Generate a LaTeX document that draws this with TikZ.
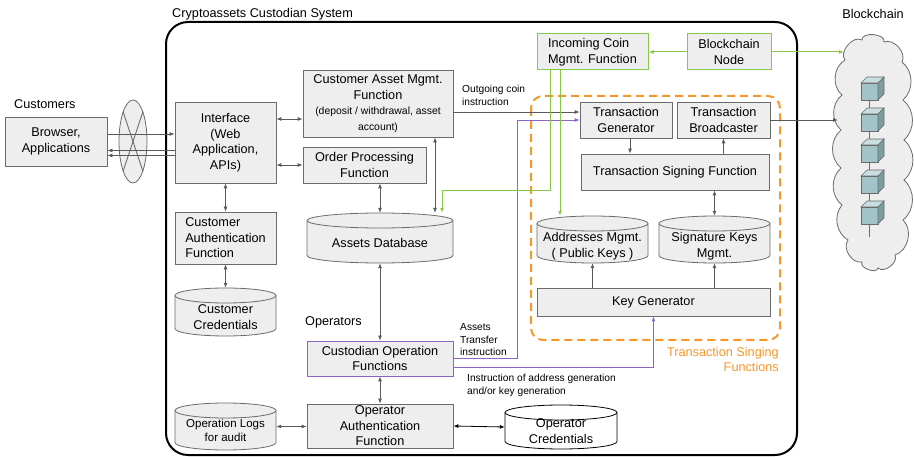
\documentclass[tikz,border=0pt]{standalone}
\usepackage{fontspec}
\setmainfont{Liberation Sans}
\usetikzlibrary{arrows.meta,shapes.geometric}

\definecolor{boxfill}{HTML}{EEEEEE}
\definecolor{boxline}{HTML}{6B6B6B}
\definecolor{wiregray}{HTML}{595959}
\definecolor{coingreen}{HTML}{86C94A}
\definecolor{oppurple}{HTML}{8E63C7}
\definecolor{signorange}{HTML}{F7962B}
\definecolor{cubefront}{HTML}{A2C4C9}
\definecolor{cubetop}{HTML}{C8DEE1}
\definecolor{cubeside}{HTML}{7E9DA1}

\newcommand{\mainf}{\fontsize{12.7}{15.5}\selectfont}
\newcommand{\smallf}{\fontsize{10.4}{12.7}\selectfont}
\newcommand{\notef}{\fontsize{10.2}{12.5}\selectfont}
% text of a store sits below its top ellipse
\newcommand{\storetext}[2][9pt]{\raisebox{-#1}[10pt][10pt]{\begin{tabular}{@{}c@{}}#2\end{tabular}}}
% a store: [options]{name}{x}{y}{width}{height}{text}
\newcommand{\store}[7][]{%
  \filldraw[storeline,#1] (#3-#5/2,#4-#6/2+7.5) -- (#3-#5/2,#4+#6/2-7.5)
    arc[start angle=180,end angle=0,x radius=#5/2,y radius=7.5]
    -- (#3+#5/2,#4-#6/2+7.5)
    arc[start angle=0,end angle=-180,x radius=#5/2,y radius=7.5] -- cycle;
  \draw[storeline,#1,fill=none] (#3-#5/2,#4-#6/2+7.5) arc[start angle=180,end angle=0,x radius=#5/2,y radius=7.5];
  \node[storebox,#1,draw=none,fill=none,minimum width=#5,minimum height=#6] (#2) at (#3,#4) {#7};}

\begin{document}
\begin{tikzpicture}[x=1pt,y=-1pt,
  >={Latex[length=5pt,width=4pt]},
  box/.style={draw=boxline,fill=boxfill,line width=0.8pt,align=center,inner sep=1pt,font=\mainf},
  storeline/.style={draw=boxline,fill=boxfill,line width=0.8pt},
  storebox/.style={inner sep=1pt,font=\mainf},
  wire/.style={draw=wiregray,line width=0.8pt},
  note/.style={align=left,inner sep=1pt,font=\notef}]
\useasboundingbox (0,0) rectangle (914,457);

% system boundary and the signing group
\draw[line width=2pt,rounded corners=22] (166,22) rectangle (797,455);
\node[anchor=west,inner sep=1pt,font=\mainf] (systitle) at (171,14) {Cryptoassets Custodian System};
\draw[signorange,line width=2pt,dash pattern=on 8pt off 5pt,rounded corners=12] (531,96) rectangle (780,340);
\node[anchor=east,align=right,inner sep=1pt,font=\mainf,text=signorange] (signtitle) at (780,359.5) {Transaction Singing\\Functions};

% customer side
\node[anchor=west,inner sep=1pt,font=\mainf] (custtitle) at (13,104) {Customers};
\node[box,minimum width=102,minimum height=49] (browser) at (56,141.5) {Browser,\\Applications};
\node[ellipse,draw=boxline,fill=boxfill,line width=0.8pt,minimum width=28,minimum height=83,inner sep=0] (net) at (133,141.5) {};
\draw[boxline,line width=0.8pt] (net.center) ++(-10,-30) -- ++(20,60);
\draw[boxline,line width=0.8pt] (net.center) ++(10,-30) -- ++(-20,60);

\node[box,minimum width=101,minimum height=81] (iface) at (225.5,142.5) {Interface\\(Web\\Application,\\APIs)};
\node[box,align=left,minimum width=101,minimum height=52] (custauth) at (225.5,238) {Customer\\Authentication\\Function};
\store{custcred}{225.5}{312}{101}{48}{\storetext[9.2pt]{Customer\\Credentials}}

% asset management
\node[box,minimum width=150,minimum height=67] (cam) at (378,103.5) {Customer Asset Mgmt.\\Function\\{\smallf(deposit / withdrawal, asset}\\{\smallf account)}};
\node[box,minimum width=123,minimum height=36] (order) at (364.5,165) {Order Processing\\Function};
\store{db}{380}{238}{146}{50}{\storetext[9.6pt]{Assets Database}}

% operators
\node[anchor=west,inner sep=1pt,font=\mainf] (optitle) at (304,322) {Operators};
\node[box,draw=oppurple,minimum width=146,minimum height=35] (custop) at (380,358.5) {Custodian Operation\\Functions};
\node[box,minimum width=146,minimum height=44] (opauth) at (380,426) {Operator\\Authentication\\Function};
\store[font=\fontsize{11.5}{13.3}\selectfont]{oplogs}{225.5}{426.5}{101}{47}{\storetext[8.3pt]{Operation Logs\\for audit}}
\store[draw=black,fill=white]{opcred}{561}{427}{112}{44}{\storetext[8.3pt]{Operator\\Credentials}}

% coins and signing
\node[box,draw=coingreen,line width=1pt,align=left,minimum width=111,minimum height=36] (incoming) at (592.5,52) {Incoming Coin\\Mgmt. Function};
\node[box,draw=coingreen,line width=1pt,minimum width=84,minimum height=36] (bnode) at (729,52) {Blockchain\\Node};
\node[box,minimum width=92,minimum height=36] (txgen) at (626,120) {Transaction\\Generator};
\node[box,minimum width=93,minimum height=36] (txbroad) at (723.5,120) {Transaction\\Broadcaster};
\node[box,minimum width=188,minimum height=36] (txsign) at (675,172) {Transaction Signing Function};
\store{addr}{592.5}{239.5}{111}{47}{\storetext[10.1pt]{Addresses Mgmt.\\( Public Keys )}}
\store{sigdb}{714.5}{239.5}{111}{47}{\storetext[10.1pt]{Signature Keys\\Mgmt.}}
\node[box,minimum width=233,minimum height=28] (keygen) at (653.5,302) {Key Generator};

% the chain: a cloud of puffs with the blocks inside
\node[inner sep=1pt,font=\mainf] (chaintitle) at (873,14) {Blockchain};
\filldraw[fill=boxfill,draw=boxline,line width=0.8pt]
  (845,60) to[bend left=80] (862,40) to[bend left=100] (884,42) to[bend left=70] (902,62)
  to[bend left=50] (903,100) to[bend left=50] (904,140) to[bend left=50] (904,180)
  to[bend left=50] (903,220) to[bend left=60] (895,255) to[bend left=80] (878,268)
  to[bend left=100] (862,262) to[bend left=70] (848,240) to[bend left=50] (842,205)
  to[bend left=50] (841,168) to[bend left=50] (841,130) to[bend left=50] (842,95)
  to[bend left=55] (845,60);
\coordinate (chainin) at (844,52);
\coordinate (chainout) at (838,120);
\draw[boxline,line width=0.8pt] (869.5,91) -- (869.5,237);
\foreach \i in {0,...,4} {
  \pgfmathsetmacro\cy{91.5+31*\i}
  \filldraw[fill=cubefront,draw=boxline,line width=0.6pt] (861,\cy-8.5) rectangle (878,\cy+8.5);
  \filldraw[fill=cubetop,draw=boxline,line width=0.6pt] (861,\cy-8.5) -- (867,\cy-14.5) -- (884,\cy-14.5) -- (878,\cy-8.5) -- cycle;
  \filldraw[fill=cubeside,draw=boxline,line width=0.6pt] (878,\cy-8.5) -- (884,\cy-14.5) -- (884,\cy+2.5) -- (878,\cy+8.5) -- cycle;
}

% customer links
\draw[wire,->] (browser.east |- 0,134) -- (iface.west |- 0,134);
\draw[wire,->] (iface.west |- 0,150.5) -- (browser.east |- 0,150.5);
\draw[wire,->] (iface.west |- 0,155.5) -- (browser.east |- 0,155.5);
\draw[wire,<->] (iface.east |- 0,119) -- (cam.west |- 0,119);
\draw[wire,<->] (iface.east |- order.west) -- (order.west);
\draw[wire,<->] (iface.south) -- (custauth.north);
\draw[wire,<->] (custauth.south) -- (custcred.north);

% database and operator links
\draw[wire,<->] (order.south -| db.north) -- (db.north);
\draw[wire,<->] (cam.south -| 435,0) -- (db.north -| 435,0);
\draw[wire,<->] (db.south) -- (custop.north);
\draw[wire,<->] (custop.south) -- (opauth.north);
\draw[wire,<->] (oplogs.east) -- (opauth.west |- oplogs.east);
\draw[black,line width=0.8pt,<->] (opauth.east) -- (opcred.west);

% instructions into the signing group
\draw[wire,->] (cam.east |- 0,112) -- (txgen.west |- 0,112);
\node[note,anchor=west] (outnote) at (461,95.5) {Outgoing coin\\instruction};
\draw[oppurple,line width=0.8pt,->] (custop.east |- 0,358) -| (517,120) -- (txgen.west);
\node[note,anchor=west] (xfernote) at (459,340) {Assets\\Transfer\\instruction};
\draw[oppurple,line width=0.8pt,->] (custop.east |- 0,367) -| (keygen.south);
\node[note,anchor=west] (keynote) at (466,385.5) {Instruction of address generation\\and/or key generation};

% incoming coins
\draw[coingreen,line width=1pt,->] (incoming.south -| 550,0) |- (442,191) -- (db.north -| 442,0);
\draw[coingreen,line width=1pt,->] (incoming.south -| 560,0) -- (addr.north -| 560,0);
\draw[coingreen,line width=1pt,->] (bnode.west) -- (incoming.east);
\draw[coingreen,line width=1pt,->] (bnode.east) -- (chainin);

% inside the signing group
\draw[wire,->] (txgen.south -| 630,0) -- (txsign.north -| 630,0);
\draw[wire,->] (txsign.north -| txbroad.south) -- (txbroad.south);
\draw[wire,<->] (txsign.south -| sigdb.north) -- (sigdb.north);
\draw[wire,->] (keygen.north -| addr.south) -- (addr.south);
\draw[wire,->] (keygen.north -| sigdb.south) -- (sigdb.south);
\draw[wire,->] (txbroad.east) -- (chainout);

\end{tikzpicture}
\end{document}
